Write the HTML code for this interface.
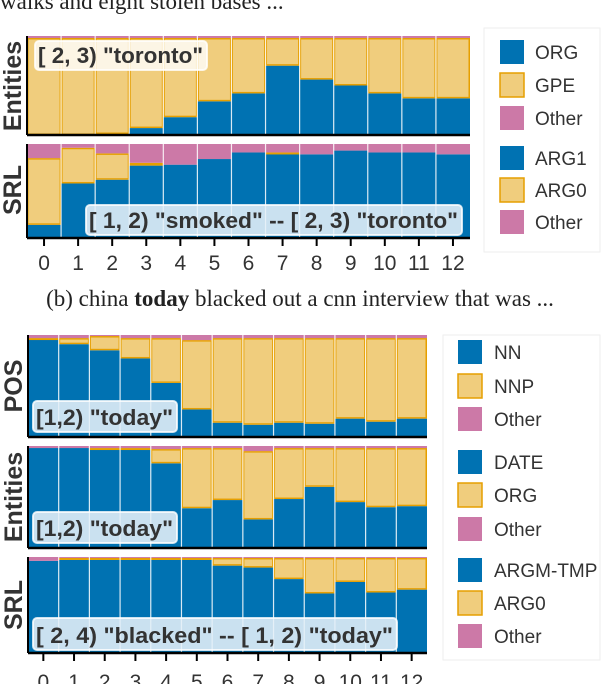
<!DOCTYPE html>
<html><head><meta charset="utf-8"><style>
body{margin:0;background:#fff;}
svg{display:block;font-family:"Liberation Sans",sans-serif;}
</style></head><body>
<svg id="fig" width="604" height="684" viewBox="0 0 604 684">
<text x="0" y="9" font-family="Liberation Serif,serif" font-size="23" fill="#222">walks and eight stolen bases ...</text>
<text x="300" y="306" text-anchor="middle" font-family="Liberation Serif,serif" font-size="23" fill="#222">(b) china <tspan font-weight="bold">today</tspan> blacked out a cnn interview that was ...</text>
<g id="charts"></g>
</svg>
<script>
const layers = ["0","1","2","3","4","5","6","7","8","9","10","11","12"];
// top figure
const aEntBlue  = [0,0,0.01,0.07,0.18,0.34,0.42,0.70,0.56,0.50,0.42,0.37,0.37];
const aEntOther = [0.02,0.02,0.02,0.02,0.02,0.02,0.02,0.02,0.02,0.02,0.02,0.02,0.02];
const aSrlBlue  = [0.14,0.58,0.62,0.77,0.78,0.84,0.91,0.90,0.89,0.93,0.91,0.91,0.89];
const aSrlOther = [0.15,0.04,0.10,0.20,0.22,0.16,0.09,0.09,0.11,0.07,0.09,0.09,0.11];
// bottom figure
const bPosBlue  = [0.96,0.91,0.85,0.77,0.53,0.27,0.14,0.12,0.14,0.13,0.18,0.15,0.18];
const bPosOther = [0.03,0.03,0.01,0.03,0.03,0.05,0.03,0.03,0.03,0.03,0.03,0.03,0.03];
const bEntBlue  = [0.98,0.98,0.97,0.97,0.83,0.39,0.47,0.28,0.48,0.60,0.45,0.40,0.41];
const bEntOther = [0.02,0.02,0.02,0.02,0.03,0.02,0.02,0.05,0.02,0.02,0.02,0.02,0.02];
const bSrlBlue  = [0.96,0.97,0.97,0.97,0.97,0.97,0.91,0.89,0.77,0.62,0.74,0.63,0.66];
const bSrlOther = [0.04,0.01,0.01,0.01,0.01,0.01,0.01,0.01,0.01,0.01,0.01,0.01,0.01];

const NS="http://www.w3.org/2000/svg";
const root=document.getElementById('charts');
const BLUE="#0072b2", ORANGE="#f0cd7d", ORSTROKE="#e69f00", PINK="#cc79a7";
function mk(tag,attrs,parent){const e=document.createElementNS(NS,tag);for(const k in attrs)e.setAttribute(k,attrs[k]);(parent||root).appendChild(e);return e;}

function panel(x0,x1,y0,y1,blue,other,name,label,labY){
  const g=mk('g',{});
  
  
  const n=blue.length, w=(x1-x0)/n, h=y1-y0;
  const ys=v=>y1-v*h;
  for(let i=0;i<n;i++){
    const bx=x0+i*w, o=1-blue[i]-other[i];
    const rb=mk('rect',{x:bx,y:ys(blue[i]),width:w,height:blue[i]*h,fill:BLUE},g);
    
    
    if(o>0.002){
      const ro=mk('rect',{x:bx+0.75,y:ys(blue[i]+o)+0.75,width:w-1.5,height:Math.max(o*h-1.5,0.5),fill:ORANGE,stroke:ORSTROKE,'stroke-width':1.5},g);
      
      
    }
    const rp=mk('rect',{x:bx,y:y0,width:w,height:other[i]*h,fill:PINK},g);
    
    
    if(i>0){mk('line',{x1:bx,x2:bx,y1:y0,y2:y1,stroke:'#fff','stroke-width':1.2,'stroke-opacity':0.85},g);}
  }
  mk('line',{x1:x0,x2:x0,y1:y0,y2:y1,stroke:'#000','stroke-width':2},g);
  mk('line',{x1:x0,x2:x1,y1:y1,y2:y1,stroke:'#000','stroke-width':2.5},g);
  const t=mk('text',{x:0,y:0,transform:`translate(${(x0-6)},${labY}) rotate(-90)`,'text-anchor':'middle','font-size':25,'font-weight':'bold',fill:'#333'},g);
  t.textContent=label;
  
  
}
function axis(x0,x1,y,labY,name){
  const n=layers.length,w=(x1-x0)/n;
  for(let i=0;i<n;i++){
    const cx=x0+(i+0.5)*w;
    mk('line',{x1:cx,x2:cx,y1:y,y2:y+8,stroke:'#000','stroke-width':2});
    const t=mk('text',{x:cx,y:labY,'text-anchor':'middle','font-size':21,fill:'#333'});
    t.textContent=layers[i];
    
    
  }
}
function note(x,y,w,h,txt,fill,name){
  const r=mk('rect',{x:x,y:y,width:w,height:h,rx:4,fill:fill,stroke:'#fff','stroke-width':2,'stroke-opacity':0.8});
  
  
  const t=mk('text',{x:x+3,y:y+h-7,'font-size':22,'font-weight':'bold',fill:'#333',textLength:w-7,lengthAdjust:'spacingAndGlyphs'});
  t.textContent=txt;
  
  
}
function legend(x,y0,y1,sx,tx,items,name){
  const b=mk('rect',{x:x,y:y0,width:600-x,height:y1-y0,fill:'#fff',stroke:'#eee'});
  
  
  items.forEach(it=>{
    const c=it[2];
    const s=mk('rect',{x:sx,y:it[1]-12,width:24,height:24,fill:c,stroke:c===ORANGE?ORSTROKE:'none','stroke-width':1.5});
    
    
    const t=mk('text',{x:tx,y:it[1]+7,'font-size':19,fill:'#333'});
    t.textContent=it[0];
    
    
  });
}
// top
panel(27,470,36,135,aEntBlue,aEntOther,'top-entities','Entities',86);
panel(27,470,144,238,aSrlBlue,aSrlOther,'top-srl','SRL',190);
axis(27,470,238,270,'top-x');
note(35,41,172,29,'[ 2, 3) "toronto"','rgba(255,255,255,0.8)','top-entities-note');
note(86,205,376,30,'[ 1, 2) "smoked" -- [ 2, 3) "toronto"','rgba(230,240,248,0.88)','top-srl-note');
legend(484,28,252,500,535,[['ORG',52,BLUE],['GPE',85,ORANGE],['Other',118,PINK],['ARG1',158,BLUE],['ARG0',190,ORANGE],['Other',222,PINK]],'top-legend');
// bottom
panel(28,427,335,437,bPosBlue,bPosOther,'bottom-pos','POS',386);
panel(28,427,446,548,bEntBlue,bEntOther,'bottom-entities','Entities',497);
panel(28,427,557,653,bSrlBlue,bSrlOther,'bottom-srl','SRL',605);
axis(28,427,653,689,'bottom-x');
note(33,401,144,31,'[1,2) "today"','rgba(230,240,248,0.88)','bottom-pos-note');
note(33,512,144,31,'[1,2) "today"','rgba(230,240,248,0.88)','bottom-entities-note');
note(33,618,364,32,'[ 2, 4) "blacked" -- [ 1, 2) "today"','rgba(230,240,248,0.88)','bottom-srl-note');
legend(443,335,660,458,494,[['NN',352,BLUE],['NNP',386,ORANGE],['Other',419,PINK],['DATE',462,BLUE],['ORG',495,ORANGE],['Other',529,PINK],['ARGM-TMP',570,BLUE],['ARG0',603,ORANGE],['Other',636,PINK]],'bottom-legend');
</script>
</body></html>
